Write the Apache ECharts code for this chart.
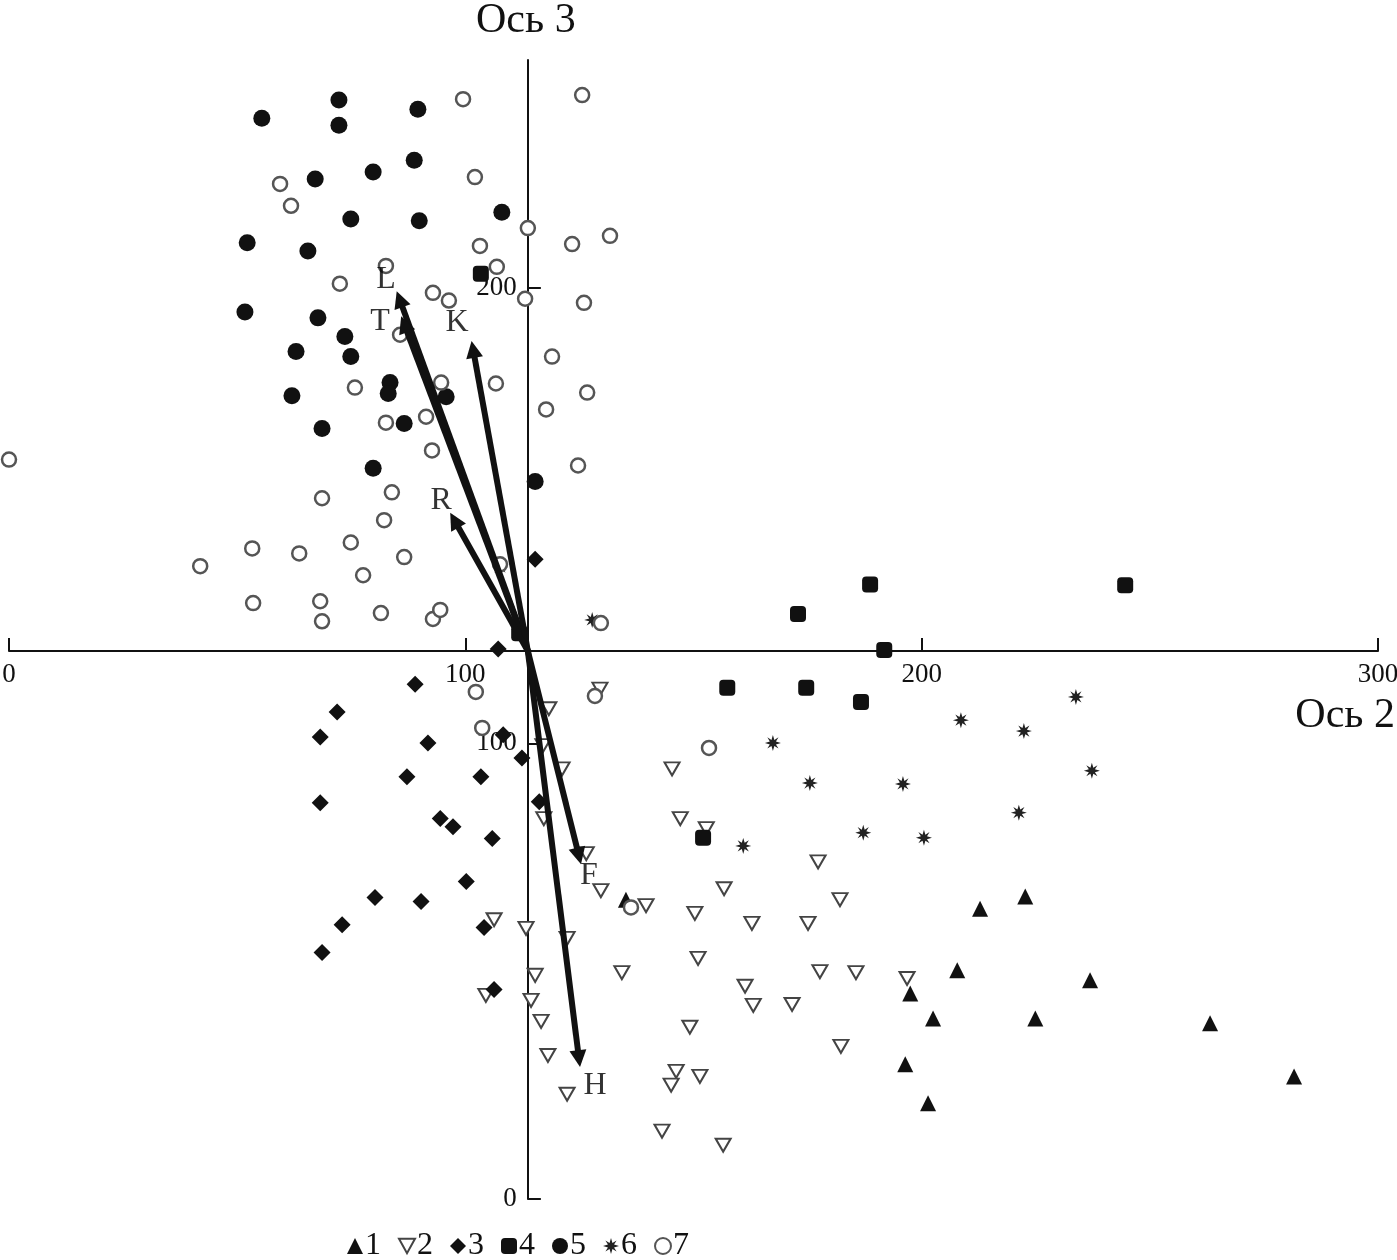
<!DOCTYPE html>
<html>
<head>
<meta charset="utf-8">
<script src="https://cdn.jsdelivr.net/npm/echarts@6/dist/echarts.min.js"></script>
<style>
html,body{margin:0;padding:0;background:#fff;}
#chart{width:1397px;height:1260px;}
</style>
</head>
<body>
<div id="chart"></div>
<script>
// ---- data (Ось 2 = x, Ось 3 = y) ----
const xTicks = [0, 100, 200, 300];
const yTicks = [0, 100, 200];
const xName = 'Ось 2';
const yName = 'Ось 3';
const legendNames = ['1', '2', '3', '4', '5', '6', '7'];
const origin = [113.7, 120.3];

const group1 = [[135.2,65.7],[212.8,63.7],[222.7,66.4],[207.8,50.2],[197.5,45.1],[236.9,48.0],[202.5,39.6],[224.9,39.6],[263.2,38.6],[196.4,29.6],[201.4,21.0],[281.6,26.9]];
const group2 = [[129.5,111.9],[118.3,107.6],[117.0,99.5],[121.2,94.4],[145.3,94.4],[147.1,83.5],[117.2,83.5],[152.8,81.3],[126.5,75.8],[177.3,74.0],[129.7,67.7],[156.7,68.1],[139.6,64.4],[182.1,65.7],[150.3,62.7],[162.8,60.5],[175.1,60.5],[106.3,61.3],[113.3,59.4],[122.3,57.2],[151.0,52.8],[134.3,49.7],[177.7,49.9],[185.6,49.7],[196.8,48.4],[115.3,49.1],[161.3,46.7],[163.1,42.5],[171.6,42.7],[104.5,44.7],[114.4,43.6],[116.6,39.0],[149.2,37.7],[182.3,33.5],[118.1,31.5],[146.2,28.0],[151.4,26.9],[145.1,25.0],[122.3,23.0],[143.1,14.9],[156.5,11.8]];
const group3 = [[115.3,140.4],[107.2,120.7],[89.0,113.0],[71.9,106.9],[68.2,101.4],[91.8,100.1],[87.2,92.7],[103.4,92.7],[112.4,96.8],[108.3,101.9],[116.2,87.2],[68.2,87.0],[94.5,83.5],[97.3,81.7],[105.9,79.1],[100.2,69.7],[80.2,66.2],[90.3,65.3],[73.0,60.2],[104.1,59.6],[68.6,54.1],[106.3,46.0]];
const group4 = [[103.4,203.1],[111.8,124.2],[172.9,128.4],[188.7,134.9],[244.6,134.7],[191.8,120.5],[157.4,112.2],[174.7,112.2],[186.7,109.1],[152.1,79.3]];
const group5 = [[55.4,237.2],[72.3,241.2],[89.6,239.2],[72.3,235.7],[67.1,223.9],[79.8,225.4],[88.8,228.0],[74.9,215.1],[89.9,214.7],[108.0,216.6],[52.2,209.9],[65.5,208.1],[51.7,194.7],[67.7,193.4],[73.6,189.3],[62.9,186.0],[74.9,184.9],[83.5,179.2],[83.1,176.8],[62.0,176.3],[95.8,176.1],[86.6,170.2],[68.6,169.1],[79.8,160.4],[115.3,157.5]];
const group6 = [[107.6,138.7],[127.8,127.1],[233.8,110.2],[208.6,105.1],[222.4,102.7],[167.4,100.1],[237.3,94.0],[175.5,91.3],[195.9,91.1],[221.3,84.8],[187.2,80.4],[200.5,79.3],[160.9,77.5]];
const group7 = [[99.5,241.4],[125.6,242.3],[59.4,222.8],[61.8,218.0],[102.1,224.3],[113.7,213.1],[131.7,211.4],[103.2,209.2],[123.4,209.6],[106.9,204.6],[72.5,200.9],[82.6,204.8],[92.9,198.9],[96.4,197.2],[113.1,197.6],[126.0,196.7],[85.7,189.7],[119.0,184.9],[75.8,178.1],[94.7,179.2],[106.7,179.0],[126.7,177.0],[91.4,171.7],[82.6,170.4],[117.7,173.3],[92.7,164.3],[124.7,161.0],[0.0,162.3],[83.9,155.1],[68.6,153.8],[82.2,149.0],[53.3,142.8],[63.6,141.7],[74.9,144.1],[86.6,140.9],[41.9,138.9],[77.6,136.9],[53.5,130.8],[68.2,131.2],[68.6,126.8],[81.5,128.6],[92.9,127.3],[94.5,129.3],[129.7,126.4],[102.3,111.3],[103.7,103.4],[128.4,110.4],[153.4,99.0],[136.3,64.0],[107.6,139.3]];

// vectors (arrows from origin)
const vectorNames = ['L', 'T', 'K', 'R', 'F', 'H'];
const vectorEnds = [[85.6,197.5],[86.6,192.0],[101.7,186.5],[97.6,149.0],[124.9,75.3],[124.9,30.8]];
const vectorLabelPos = [[82.6,201.8],[81.3,192.5],[98.2,192.3],[94.7,153.3],[127.1,71.0],[128.4,24.8]];

// ---- chart ----
const FONT = '"Liberation Serif", "DejaVu Serif", serif';
const BLACK = '#111';
const X_MAX = 300, Y_MAX = 250;
const grid = {left: 9, right: 19, top: 60, bottom: 61, outerBoundsMode: 'none', containLabel: false};
const W = 1397, H = 1260;
const gw = W - grid.left - grid.right, gh = H - grid.top - grid.bottom;
const xAxisOffset = -(origin[1] / Y_MAX) * gh;
const yAxisOffset = -(origin[0] / X_MAX) * gw;

const starPath = 'path://M5,0 L5.9,3.1 L8.5,1.5 L6.9,4.1 L10,5 L6.9,5.9 L8.5,8.5 L5.9,6.9 L5,10 L4.1,6.9 L1.5,8.5 L3.1,5.9 L0,5 L3.1,4.1 L1.5,1.5 L4.1,3.1 Z';
const invTriPath = 'path://M0,0 L10,0 L5,9 Z';

const groups = [group1, group2, group3, group4, group5, group6, group7];
const styles = [
  {symbol: 'triangle', size: 16, item: {color: BLACK}},
  {symbol: invTriPath, size: [15, 13], item: {color: '#fff', borderColor: '#444', borderWidth: 2}},
  {symbol: 'diamond', size: 17, item: {color: BLACK}},
  {symbol: 'roundRect', size: 16, item: {color: BLACK}},
  {symbol: 'circle', size: 17, item: {color: BLACK}},
  {symbol: starPath, size: 16, item: {color: '#222'}},
  {symbol: 'circle', size: 14, item: {color: '#fff', borderColor: '#555', borderWidth: 2.5}}
];

const series = groups.map((g, i) => ({
  name: legendNames[i],
  type: 'scatter',
  data: g,
  symbol: styles[i].symbol,
  symbolSize: styles[i].size,
  itemStyle: Object.assign({opacity: 1}, styles[i].item),
  z: 3,
  emphasis: {disabled: true}
}));

series.push({
  type: 'lines',
  coordinateSystem: 'cartesian2d',
  data: vectorEnds.map(e => ({coords: [origin, e]})),
  symbol: ['none', 'triangle'],
  symbolSize: [0, 17],
  lineStyle: {color: '#111', width: 6, opacity: 1},
  z: 5,
  silent: true
});

series.push({
  type: 'scatter',
  data: vectorLabelPos.map((p, i) => ({value: p, name: vectorNames[i]})),
  symbolSize: 0,
  label: {show: true, position: 'inside', formatter: p => p.name, color: '#000', fontFamily: FONT, fontSize: 32},
  z: 6,
  silent: true
});

const chart = echarts.init(document.getElementById('chart'), null, {renderer: 'canvas'});
chart.setOption({
  backgroundColor: '#fff',
  animation: false,
  grid: grid,
  legend: {
    data: legendNames,
    left: 342, top: 1225,
    itemWidth: 16, itemHeight: 16, itemGap: 17,
    textStyle: {fontFamily: FONT, fontSize: 32, color: BLACK, padding: [0, 0, 0, -3]},
    selectedMode: false
  },
  xAxis: {
    type: 'value', min: 0, max: X_MAX, interval: 100,
    offset: xAxisOffset,
    axisLine: {show: true, lineStyle: {color: BLACK, width: 2}},
    axisTick: {show: true, inside: true, length: 13, lineStyle: {color: BLACK, width: 2}, customValues: xTicks},
    axisLabel: {show: true, customValues: xTicks, fontFamily: FONT, fontSize: 27, color: BLACK, margin: 10},
    splitLine: {show: false}
  },
  yAxis: {
    type: 'value', min: 0, max: Y_MAX, interval: 100,
    offset: yAxisOffset,
    axisLine: {show: true, lineStyle: {color: BLACK, width: 2}},
    axisTick: {show: true, inside: true, length: 13, lineStyle: {color: BLACK, width: 2}, customValues: yTicks},
    axisLabel: {show: true, customValues: yTicks, fontFamily: FONT, fontSize: 27, color: BLACK, margin: 11},
    splitLine: {show: false}
  },
  graphic: [
    {type: 'text', left: 476, top: 0, style: {text: yName, fontFamily: FONT, fontSize: 42, fill: BLACK}},
    {type: 'text', right: 2, top: 695, style: {text: xName, fontFamily: FONT, fontSize: 42, fill: BLACK}}
  ],
  series: series
});
</script>
</body>
</html>
